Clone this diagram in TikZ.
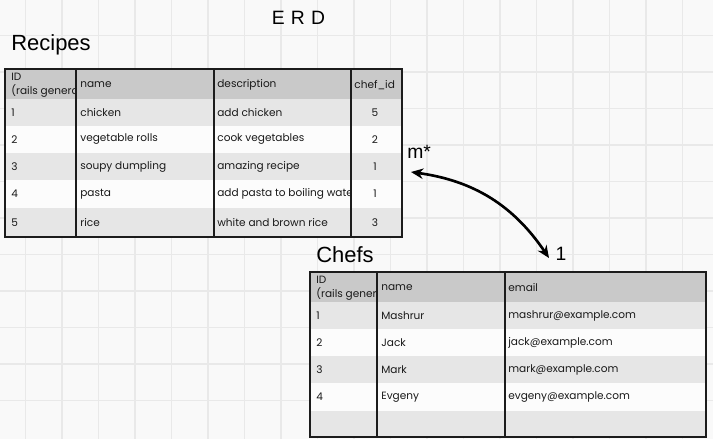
\documentclass[tikz,border=0pt]{standalone}
\usepackage{fontspec}
\setmainfont{Liberation Sans}
\newfontfamily\cellfont{Poppins}
\usetikzlibrary{positioning,arrows.meta}

\definecolor{paper}{HTML}{F9F9F9}
\definecolor{gridgray}{HTML}{E9E9E9}
\definecolor{headgray}{HTML}{C9C9C9}
\definecolor{rowgray}{HTML}{E6E6E6}
\definecolor{rowwhite}{HTML}{FCFCFC}
\definecolor{inkline}{HTML}{1C1C1C}

\begin{document}
\begin{tikzpicture}[x=0.02cm,y=-0.02cm,
    every node/.style={inner sep=0pt},
    cell/.style={anchor=west,font=\cellfont\fontsize{6}{8}\selectfont,text=black!90},
    numcell/.style={font=\cellfont\fontsize{6}{8}\selectfont,text=black!90},
    title/.style={anchor=west,font=\fontsize{12.5}{14}\selectfont},
    tabline/.style={draw=inkline,line width=1.1pt},
    gridline/.style={draw=gridgray,line width=0.6pt},
    relline/.style={draw=black,line width=1.5pt,{Stealth[length=7pt,width=6pt]}-{Stealth[length=7pt,width=6pt]}}]
    \useasboundingbox (0,0) rectangle (713,439);

    %paper and grid
    \fill[paper] (0,0) rectangle (713,439);
    \foreach \i in {0,...,19} \draw[gridline] (25.5+36.5*\i,0) -- ++(0,439);
    \foreach \j in {0,...,11} \draw[gridline] (0,-1+36.5*\j) -- ++(713,0);

    %titles
    \node[font=\fontsize{11}{12}\selectfont] (erd) at (298.5,18) {E\hspace{3.5pt}R\hspace{3.5pt}D};
    \node[title] (recipes) at (11,45) {Recipes};
    \node[title] (chefs) at (316,255) {Chefs};

    %recipes table rows
    \fill[headgray] (5,69) rectangle (402,99);
    \fill[rowgray] (5,99) rectangle (402,126);
    \fill[rowwhite] (5,126) rectangle (402,153);
    \fill[rowgray] (5,153) rectangle (402,180);
    \fill[rowwhite] (5,180) rectangle (402,208);
    \fill[rowgray] (5,208) rectangle (402,237);

    %recipes header
    \begin{scope}
        \clip (5,69) rectangle (76,99);
        \node[cell,align=left] (rhid) at (11,85) {ID\\(rails genera};
    \end{scope}
    \node[cell] (rhname) at (80,85) {name};
    \node[cell] (rhdesc) at (217,85) {description};
    \node[cell] (rhchef) at (354,85) {chef\_id};

    %recipes data
    \node[cell] (r1id) at (11,112.5) {1};
    \node[cell] (r1name) at (80,112.5) {chicken};
    \node[cell] (r1desc) at (217,112.5) {add chicken};
    \node[numcell] (r1chef) at (375,112.5) {5};
    \node[cell] (r2id) at (11,139.5) {2};
    \node[cell] (r2name) at (80,139.5) {vegetable rolls};
    \node[cell] (r2desc) at (217,139.5) {cook vegetables};
    \node[numcell] (r2chef) at (375,139.5) {2};
    \node[cell] (r3id) at (11,166.5) {3};
    \node[cell] (r3name) at (80,166.5) {soupy dumpling};
    \node[cell] (r3desc) at (217,166.5) {amazing recipe};
    \node[numcell] (r3chef) at (375,166.5) {1};
    \node[cell] (r4id) at (11,194) {4};
    \node[cell] (r4name) at (80,194) {pasta};
    \begin{scope}
        \clip (214,180) rectangle (351,208);
        \node[cell] (r4desc) at (217,194) {add pasta to boiling wate};
    \end{scope}
    \node[numcell] (r4chef) at (375,194) {1};
    \node[cell] (r5id) at (11,222.5) {5};
    \node[cell] (r5name) at (80,222.5) {rice};
    \node[cell] (r5desc) at (217,222.5) {white and brown rice};
    \node[numcell] (r5chef) at (375,222.5) {3};

    %recipes lines
    \draw[tabline] (5,69) rectangle (402,237);
    \draw[tabline] (76,69) -- (76,237);
    \draw[tabline] (214,69) -- (214,237);
    \draw[tabline] (351,69) -- (351,237);

    %chefs table rows
    \fill[headgray] (310,272) rectangle (706,302);
    \fill[rowgray] (310,302) rectangle (706,329);
    \fill[rowwhite] (310,329) rectangle (706,356);
    \fill[rowgray] (310,356) rectangle (706,383);
    \fill[rowwhite] (310,383) rectangle (706,411);
    \fill[rowgray] (310,411) rectangle (706,437);

    %chefs header
    \begin{scope}
        \clip (310,272) rectangle (377,302);
        \node[cell,align=left] (chid) at (316,288) {ID\\(rails gener};
    \end{scope}
    \node[cell] (chname) at (381,288) {name};
    \node[cell] (chmail) at (508,288) {email};

    %chefs data
    \node[cell] (c1id) at (316,315.5) {1};
    \node[cell] (c1name) at (381,315.5) {Mashrur};
    \node[cell] (c1mail) at (508,315.5) {mashrur@example.com};
    \node[cell] (c2id) at (316,342.5) {2};
    \node[cell] (c2name) at (381,342.5) {Jack};
    \node[cell] (c2mail) at (508,342.5) {jack@example.com};
    \node[cell] (c3id) at (316,369.5) {3};
    \node[cell] (c3name) at (381,369.5) {Mark};
    \node[cell] (c3mail) at (508,369.5) {mark@example.com};
    \node[cell] (c4id) at (316,397) {4};
    \node[cell] (c4name) at (381,397) {Evgeny};
    \node[cell] (c4mail) at (508,397) {evgeny@example.com};

    %chefs lines
    \draw[tabline] (310,272) rectangle (706,437);
    \draw[tabline] (377,272) -- (377,437);
    \draw[tabline] (505,272) -- (505,437);

    %relation
    \node[anchor=west,font=\fontsize{11}{12}\selectfont] (many) at (407,152) {m*};
    \node[font=\fontsize{11}{12}\selectfont] (one) at (561,254) {1};
    \coordinate (manyend) at (411,172);
    \coordinate (oneend) at (549,258);
    \draw[relline] (manyend) to[bend left=24] (oneend);
\end{tikzpicture}
\end{document}
